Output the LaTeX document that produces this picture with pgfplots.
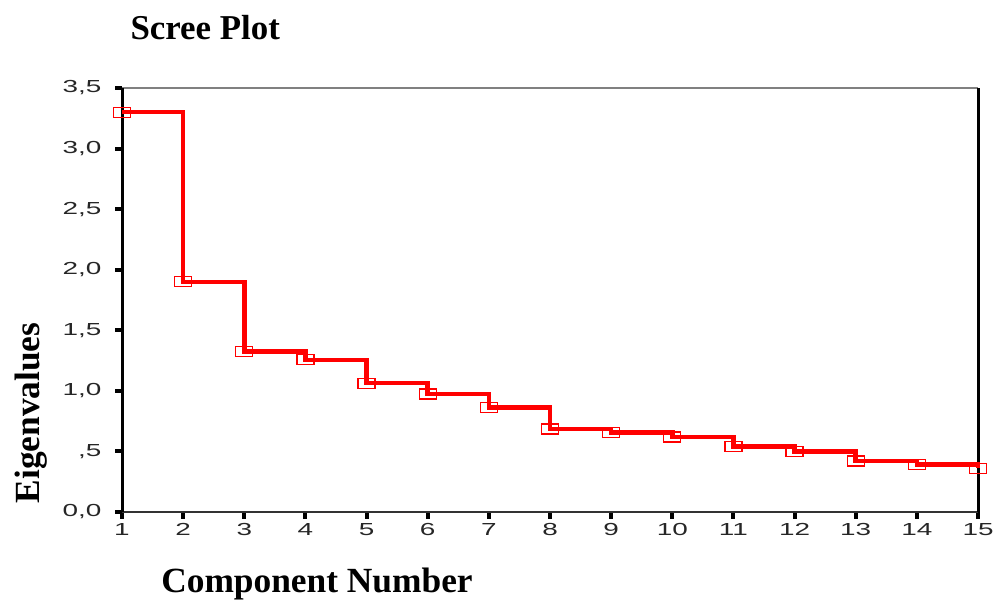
\documentclass[border=0pt]{standalone}
\usepackage{pgfplots}
\pgfplotsset{compat=1.18}
\usepackage{fontspec}
\setmainfont{Liberation Serif}
\newfontfamily\arial{Liberation Sans}
\usepackage{graphicx}
\newcommand\sx[1]{\scalebox{1.6}[1]{#1}}
\begin{document}
\begin{tikzpicture}[x=1bp,y=1bp]
\useasboundingbox (0,0) rectangle (994,600);
\begin{axis}[
  at={(122bp,88bp)}, anchor=south west,
  width=856bp, height=424bp, scale only axis,
  xmin=1, xmax=15, ymin=0, ymax=3.5,
  axis line style={draw=none},
  clip=false,
  xtick={1,2,3,4,5,6,7,8,9,10,11,12,13,14,15},
  xticklabels={{\sx{1}},{\sx{2}},{\sx{3}},{\sx{4}},{\sx{5}},{\sx{6}},{\sx{7}},{\sx{8}},{\sx{9}},{\sx{10}},{\sx{11}},{\sx{12}},{\sx{13}},{\sx{14}},{\sx{15}}},
  ytick={0,0.5,1,1.5,2,2.5,3,3.5},
  yticklabels={{\sx{0,0}},{\sx{,5}},{\sx{1,0}},{\sx{1,5}},{\sx{2,0}},{\sx{2,5}},{\sx{3,0}},{\sx{3,5}}},
  tick label style={font=\arial\fontsize{17.5}{17.5}\selectfont, text=black!85},
  yticklabel style={xshift=-10bp},
  xticklabel style={yshift=-1bp},
  tick align=outside,
  xtick pos=bottom, ytick pos=left,
  major tick length=7bp,
  tick style={black, line width=4bp},
]
\draw[black!50, line width=2bp] (rel axis cs:0,1) -- (rel axis cs:1,1);
\draw[black!80, line width=2bp] (rel axis cs:0,0) -- (rel axis cs:1,0);
\draw[black, line width=3bp] (rel axis cs:1,0) -- (rel axis cs:1,1);
\draw[black, line width=3bp] (rel axis cs:0,0) -- (rel axis cs:0,1);
\addplot[const plot, draw=red, line width=4.5bp, mark=square, mark size=5bp,
  mark options={xscale=1.7, draw=red, fill=white, line width=1.3bp, solid}]
  coordinates {
  (1,3.30) (2,1.90) (3,1.325) (4,1.256) (5,1.063) (6,0.973) (7,0.863)
  (8,0.685) (9,0.655) (10,0.62) (11,0.54) (12,0.50) (13,0.42) (14,0.39) (15,0.36)
  };
\end{axis}
\node[anchor=base west, font=\bfseries\fontsize{35}{35}\selectfont] at (127,560) {Scree Plot};
\node[anchor=base, font=\bfseries\fontsize{35.5}{35.5}\selectfont] at (317,7) {Component Number};
\node[rotate=90, font=\bfseries\fontsize{35.5}{35.5}\selectfont] at (31,187) {Eigenvalues};
\end{tikzpicture}
\end{document}
